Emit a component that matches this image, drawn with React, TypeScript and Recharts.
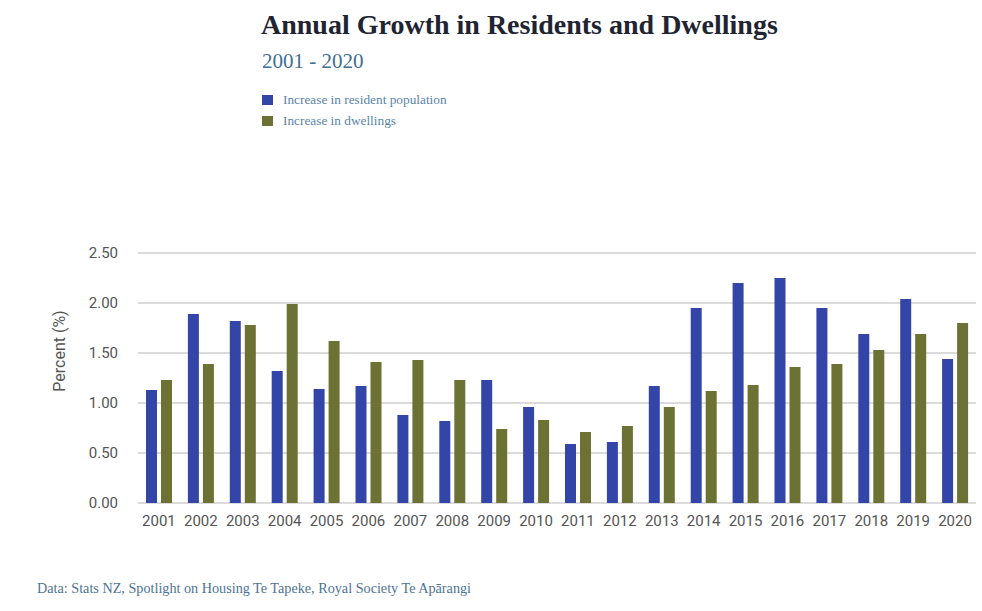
import React from 'react';
import { BarChart, Bar, XAxis, YAxis, CartesianGrid, Label } from 'recharts';

// values (percent)
const years = ['2001', '2002', '2003', '2004', '2005', '2006', '2007', '2008', '2009', '2010',
  '2011', '2012', '2013', '2014', '2015', '2016', '2017', '2018', '2019', '2020'];
const residents = [1.13, 1.89, 1.82, 1.32, 1.14, 1.17, 0.88, 0.82, 1.23, 0.96,
  0.59, 0.61, 1.17, 1.95, 2.20, 2.25, 1.95, 1.69, 2.04, 1.44];
const dwellings = [1.23, 1.39, 1.78, 1.99, 1.62, 1.41, 1.43, 1.23, 0.74, 0.83,
  0.71, 0.77, 0.96, 1.12, 1.18, 1.36, 1.39, 1.53, 1.69, 1.80];
const yTicks = [0, 0.5, 1, 1.5, 2, 2.5];

const BLUE = '#3346a8';
const OLIVE = '#6c7134';

const data = years.map((year, i) => ({ year, residents: residents[i], dwellings: dwellings[i] }));

const serif = '"Liberation Serif", "DejaVu Serif", serif';
const tickStyle = { fontFamily: 'Roboto, sans-serif', fontSize: 15, fill: '#555' };

// rotated axis title, nudged above the plot centre like the original
const AxisTitle = (props: any) => {
  const vb = props.viewBox || {};
  const x = 59;
  const y = vb.y + vb.height / 2 - 27;
  return (
    <text x={x} y={y} transform={`rotate(-90, ${x}, ${y})`} textAnchor="middle" dominantBaseline="central"
      fontFamily="Roboto, sans-serif" fontSize={16} fill="#555">
      Percent (%)
    </text>
  );
};

export default function App() {
  return (
    <div style={{ position: 'absolute', left: 0, top: 0, width: 982, height: 611, background: '#fff', overflow: 'hidden' }}>
      <div style={{ position: 'absolute', left: 261, top: 9, fontFamily: serif, fontWeight: 700, fontSize: 28, color: '#1f2433', whiteSpace: 'nowrap' }}>
        Annual Growth in Residents and Dwellings
      </div>
      <div style={{ position: 'absolute', left: 262, top: 49, fontFamily: serif, fontSize: 21, color: '#3e6f94', whiteSpace: 'nowrap' }}>
        2001 - 2020
      </div>
      {[{ c: BLUE, t: 'Increase in resident population', y: 95 }, { c: OLIVE, t: 'Increase in dwellings', y: 116 }].map((d) => (
        <div key={d.t} style={{ position: 'absolute', left: 262, top: d.y, display: 'flex', alignItems: 'center', whiteSpace: 'nowrap' }}>
          <div style={{ width: 11, height: 10, background: d.c }} />
          <span style={{ marginLeft: 10, fontFamily: serif, fontSize: 13.3, color: '#5a84aa', lineHeight: '10px' }}>{d.t}</span>
        </div>
      ))}

      <div style={{ position: 'absolute', left: 0, top: 0 }}>
        <BarChart width={982} height={545} data={data} barSize={11} barGap={4}
          margin={{ top: 253, right: 6, left: 0, bottom: 12 }}>
          <CartesianGrid vertical={false} stroke="#cfcfcf" strokeWidth={1.5} />
          <XAxis dataKey="year" axisLine={false} tickLine={false} interval={0} height={30}
            tickMargin={6} tick={tickStyle} />
          <YAxis width={138} domain={[0, 2.5]} ticks={yTicks} axisLine={false} tickLine={false}
            tickMargin={14} tick={tickStyle} tickFormatter={(v: number) => v.toFixed(2)}>
            <Label content={AxisTitle} />
          </YAxis>
          <Bar dataKey="residents" fill={BLUE} isAnimationActive={false} />
          <Bar dataKey="dwellings" fill={OLIVE} isAnimationActive={false} />
        </BarChart>
      </div>

      <div style={{ position: 'absolute', left: 37, top: 580, fontFamily: serif, fontSize: 14.2, color: '#4e7495', whiteSpace: 'nowrap' }}>
        Data: Stats NZ, Spotlight on Housing Te Tapeke, Royal Society Te Apārangi
      </div>
    </div>
  );
}
